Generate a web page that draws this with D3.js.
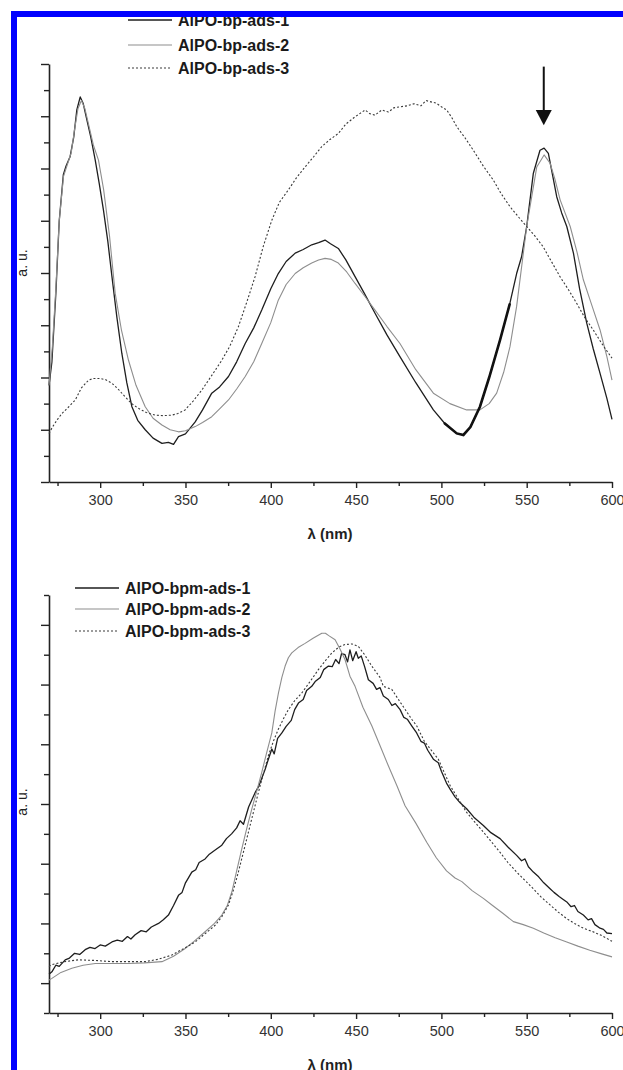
<!DOCTYPE html>
<html>
<head>
<meta charset="utf-8">
<script src="https://cdn.jsdelivr.net/npm/d3@7"></script>
<style>
  body { margin: 0; background: #fff; }
  svg { display: block; font-family: "Liberation Sans", Arial, sans-serif; }
</style>
</head>
<body>
<div id="chart"></div>
<script>
// x ticks (nm)
const xMajor = [300, 350, 400, 450, 500, 550, 600];
const xMinor = [275, 325, 375, 425, 475, 525, 575];

// top panel: AlPO-bp-ads-*
const bpNames = ["AlPO-bp-ads-1", "AlPO-bp-ads-2", "AlPO-bp-ads-3"];
const bpAds1 = [[270,1.85],[271.7,2.3],[274,3.6],[276,5.0],[278.4,5.88],[280,6.05],[282.4,6.23],[284.5,6.6],[286.3,7.12],[288.3,7.37],[290,7.25],[292.2,6.93],[294.5,6.6],[297.1,6.16],[299.5,5.7],[301.9,5.21],[304.5,4.6],[306.9,3.93],[309.8,3.15],[312.7,2.46],[315.6,1.9],[318.6,1.44],[322,1.18],[326.4,1.0],[331,0.84],[336.2,0.74],[340,0.76],[343,0.72],[345.9,0.87],[350,0.92],[355.7,1.15],[360,1.38],[365.4,1.7],[370,1.82],[375.2,2.02],[380,2.3],[385,2.65],[390,2.95],[394.7,3.29],[400,3.7],[404.4,3.99],[409,4.22],[414.3,4.38],[419,4.45],[424,4.54],[428,4.58],[431.8,4.63],[435,4.56],[439.6,4.47],[444,4.25],[449.4,3.93],[455,3.6],[461.1,3.23],[468,2.82],[475.7,2.4],[485,1.9],[495.3,1.38],[502,1.12],[509,0.93],[512.9,0.9],[517,1.05],[522.6,1.44],[528,2.0],[534.4,2.72],[540,3.4],[544.1,3.99],[547,4.31],[550,4.89],[553.9,5.91],[557.8,6.35],[560.2,6.39],[562.7,6.29],[565,5.9],[567.6,5.46],[570.5,5.15],[573.5,4.89],[577.4,4.38],[581,3.7],[585.2,3.04],[589,2.55],[593,2.08],[597,1.6],[600,1.2]];
const bpAds2 = [[270,1.85],[272,2.6],[274,3.7],[276,5.0],[278.5,5.85],[281,6.1],[283,6.3],[285,6.75],[287,7.15],[289,7.3],[291,7.15],[293.5,6.8],[296,6.45],[299,6.16],[302,5.6],[305.5,4.7],[308.8,3.61],[312.5,2.9],[316.6,2.33],[321,1.85],[326.4,1.44],[331,1.22],[336.2,1.09],[341,1.0],[345.9,0.96],[350,0.98],[355.7,1.06],[360,1.14],[365.4,1.25],[370,1.4],[375.2,1.57],[380,1.78],[385,2.02],[390,2.3],[394.7,2.65],[400,3.05],[404.4,3.48],[409,3.78],[414.3,3.99],[419,4.1],[424,4.19],[428,4.25],[431.8,4.28],[435.5,4.26],[439.6,4.19],[444.5,4.02],[449.4,3.8],[455,3.56],[461.1,3.29],[468,2.98],[475.7,2.65],[485,2.15],[495.3,1.7],[505,1.5],[514.8,1.38],[522.6,1.38],[528,1.5],[532.4,1.7],[536.5,2.1],[540.2,2.59],[544.1,3.36],[550,4.89],[555.9,6.03],[560.2,6.26],[563.7,6.1],[566.5,5.8],[569.6,5.4],[575.5,4.89],[579.5,4.4],[583.2,3.87],[588,3.4],[593,2.91],[597,2.4],[600,1.95]];
const bpAds3 = [[270,0.93],[272,1.05],[275,1.2],[277.6,1.31],[281,1.42],[285.4,1.57],[289,1.8],[293.2,1.95],[296,1.98],[300,1.98],[303,1.96],[306.9,1.89],[310.5,1.78],[314.6,1.63],[318.5,1.5],[322.4,1.41],[327,1.33],[332.2,1.28],[337,1.27],[342,1.28],[345.5,1.31],[349.8,1.38],[354.5,1.55],[359.6,1.76],[365,2.02],[371.3,2.33],[376,2.6],[381,2.97],[386,3.45],[390.8,3.93],[395.5,4.5],[400.6,5.01],[405,5.35],[410.3,5.59],[415,5.82],[420.1,6.03],[425,6.22],[429.9,6.42],[434.5,6.55],[439.6,6.67],[444,6.85],[449.4,6.99],[455.3,7.12],[458,7.05],[461.1,7.02],[465,7.12],[469,7.08],[472,7.16],[475.7,7.18],[480,7.2],[484,7.24],[488,7.2],[491,7.3],[493.3,7.28],[497,7.25],[500,7.18],[503.1,7.12],[506,6.98],[509,6.8],[514,6.58],[518.7,6.35],[524.5,6.05],[530.4,5.78],[535,5.52],[540.2,5.27],[545,5.08],[550,4.89],[555,4.7],[559.7,4.5],[564.5,4.22],[569.5,3.93],[574.5,3.68],[579.3,3.42],[584,3.15],[589,2.91],[595,2.6],[600,2.37]];

// bottom panel: AlPO-bpm-ads-*
const bpmNames = ["AlPO-bpm-ads-1", "AlPO-bpm-ads-2", "AlPO-bpm-ads-3"];
const bpmAds1 = [[270,0.15],[271.7,0.19],[274,0.3],[276,0.28],[279.5,0.39],[282,0.42],[285,0.5],[288,0.48],[291.2,0.56],[294,0.6],[297,0.58],[300,0.64],[303,0.62],[306.9,0.69],[310,0.72],[313,0.7],[316,0.78],[318,0.74],[320.5,0.81],[324,0.88],[327,0.86],[330,0.94],[334.2,1.0],[337,1.06],[340,1.14],[343,1.3],[345.9,1.47],[348,1.52],[350,1.68],[353.7,1.86],[356,1.9],[358,2.02],[361.5,2.08],[364,2.16],[367,2.22],[371.3,2.31],[374,2.42],[377,2.5],[380,2.6],[382,2.72],[384,2.66],[387,2.95],[390.8,3.19],[393,3.3],[396.7,3.58],[398,3.7],[400.6,3.92],[402,3.84],[404,4.1],[406.5,4.19],[409,4.3],[412,4.4],[414,4.58],[416.2,4.69],[419,4.75],[421,4.9],[424,4.97],[426,5.05],[429,5.12],[431,5.25],[433.8,5.31],[436,5.3],[438,5.42],[440,5.35],[441.5,5.52],[443.5,5.5],[445,5.38],[446.4,5.58],[448,5.4],[450,5.55],[451.3,5.44],[453,5.48],[455,5.3],[457.2,5.08],[460,5.02],[462,4.92],[464,4.95],[466,4.81],[468.9,4.75],[471,4.65],[473,4.68],[475.8,4.58],[478,4.45],[480,4.42],[482.6,4.31],[485.5,4.19],[488,4.05],[490,4.02],[492,3.9],[495.3,3.75],[498.2,3.69],[500,3.55],[503,3.35],[505.1,3.25],[508,3.12],[511,3.02],[514.8,2.92],[519,2.78],[524.6,2.64],[529,2.52],[534.4,2.42],[539,2.28],[544.1,2.14],[547,2.05],[549,2.08],[551,1.95],[553.9,1.86],[557,1.78],[560,1.68],[563.7,1.58],[566,1.52],[569,1.45],[571,1.41],[573.5,1.36],[576,1.28],[578,1.3],[580,1.2],[583.2,1.14],[586,1.06],[588,1.08],[590,0.98],[593,0.92],[595,0.9],[597,0.84],[600,0.83]];
const bpmAds2 = [[270,0.05],[271.7,0.08],[277,0.18],[283.4,0.25],[290,0.3],[297.1,0.33],[306,0.33],[316.6,0.33],[326,0.34],[336.2,0.36],[343,0.45],[349.8,0.58],[355,0.7],[361.5,0.86],[367,1.0],[371.3,1.14],[374.5,1.3],[377.2,1.53],[380,1.88],[383,2.25],[386,2.6],[388.9,2.92],[391.8,3.22],[394.7,3.53],[397.6,3.86],[400.6,4.19],[402.5,4.55],[404.5,4.86],[406.5,5.12],[408.4,5.31],[410.3,5.45],[412.3,5.53],[416,5.62],[420.1,5.69],[425,5.78],[429.9,5.86],[432,5.86],[434,5.82],[437.7,5.75],[440.5,5.6],[443.5,5.42],[446.4,5.14],[449.4,4.97],[454,4.62],[459.2,4.31],[464,3.98],[468.9,3.64],[474,3.3],[478.7,2.97],[485,2.68],[491.4,2.36],[497,2.1],[503,1.88],[508,1.76],[512,1.7],[518,1.55],[524.6,1.42],[530,1.3],[536,1.17],[542.2,1.03],[548,0.98],[553.9,0.92],[560,0.84],[566.7,0.76],[573.5,0.69],[580,0.62],[587,0.55],[594,0.49],[600,0.44]];
const bpmAds3 = [[270,0.28],[271.7,0.31],[279,0.36],[287.3,0.39],[297,0.38],[306.9,0.36],[316,0.36],[326.4,0.36],[334,0.4],[342,0.47],[349,0.58],[355.7,0.69],[362,0.84],[367.4,0.97],[371.5,1.12],[375.2,1.31],[378,1.55],[381,1.86],[384,2.2],[386.9,2.53],[389.8,2.86],[392.7,3.19],[395.6,3.5],[398.6,3.81],[401.5,4.05],[404.4,4.25],[407.3,4.42],[410.3,4.58],[414,4.73],[418.2,4.86],[423,5.05],[427.9,5.25],[432,5.4],[435.8,5.53],[440,5.63],[443.5,5.67],[447.5,5.68],[451.3,5.64],[455,5.5],[459.2,5.31],[464,5.12],[466,4.97],[470.9,4.92],[476,4.7],[482.6,4.42],[485.5,4.31],[490,4.05],[498.2,3.75],[505.1,3.31],[510,3.08],[514.8,2.86],[519.5,2.7],[524.6,2.53],[529.5,2.36],[534.4,2.19],[539,2.02],[544.1,1.86],[549,1.72],[553.9,1.58],[558.5,1.44],[563.7,1.31],[568.5,1.19],[573.5,1.08],[578,1.0],[583.2,0.92],[588,0.87],[593,0.81],[597,0.75],[600,0.7]];

const W = 623, H = 1070;
const svg = d3.select("#chart").append("svg")
    .attr("width", W)
    .attr("height", H);
svg.append("rect").attr("width", W).attr("height", H).attr("fill", "#fff");

const x = d3.scaleLinear().domain([270, 600]).range([49, 612]);

// series styles
const styles = [
    { stroke: "#1e1e1e", width: 1.3, dash: null },
    { stroke: "#8e8e8e", width: 1.1, dash: null },
    { stroke: "#3a3a3a", width: 1.1, dash: "2,2" }
];

function drawPanel(opts) {
    const y = d3.scaleLinear().domain(opts.yDomain).range(opts.yRange);
    const g = svg.append("g");
    const y0 = opts.yRange[0];

    // y axis: major + minor ticks, no labels
    g.append("g")
        .attr("transform", "translate(49,0)")
        .call(d3.axisLeft(y).tickValues(opts.yMajor).tickSize(8).tickSizeOuter(0).tickFormat(""))
        .call(a => a.select(".domain").attr("stroke-width", 1.6).attr("stroke", "#222"))
        .call(a => a.selectAll(".tick line").attr("stroke-width", 1.4).attr("stroke", "#222"));
    g.append("g")
        .attr("transform", "translate(49,0)")
        .call(d3.axisLeft(y).tickValues(opts.yMinor).tickSize(5).tickFormat(""))
        .call(a => a.select(".domain").remove())
        .call(a => a.selectAll(".tick line").attr("stroke-width", 1.4).attr("stroke", "#222"));

    // x axis
    g.append("g")
        .attr("transform", `translate(0,${y0})`)
        .call(d3.axisBottom(x).tickValues(xMajor).tickSize(6).tickSizeOuter(0).tickPadding(7))
        .call(a => a.select(".domain").attr("stroke-width", 1.6).attr("stroke", "#222"))
        .call(a => a.selectAll(".tick line").attr("stroke-width", 1.4).attr("stroke", "#222"))
        .call(a => a.selectAll("text").attr("font-size", 14.5).attr("fill", "#333")
            .attr("font-family", "'Liberation Sans', Arial, sans-serif"));
    g.append("g")
        .attr("transform", `translate(0,${y0})`)
        .call(d3.axisBottom(x).tickValues(xMinor).tickSize(4).tickFormat(""))
        .call(a => a.select(".domain").remove())
        .call(a => a.selectAll(".tick line").attr("stroke-width", 1.4).attr("stroke", "#222"));

    // axis titles
    g.append("text")
        .attr("x", 330)
        .attr("y", y0 + 57)
        .attr("text-anchor", "middle")
        .attr("font-size", 15)
        .attr("font-weight", "bold")
        .attr("fill", "#222")
        .text("λ (nm)");
    g.append("text")
        .attr("transform", `translate(27,${opts.yLabelAt}) rotate(-90)`)
        .attr("text-anchor", "middle")
        .attr("font-size", 14)
        .attr("fill", "#222")
        .text("a. u.");

    // curves
    const line = d3.line().x(d => x(d[0])).y(d => y(d[1]));
    opts.series.forEach((s, i) => {
        g.append("path")
            .datum(s)
            .attr("fill", "none")
            .attr("stroke", styles[i].stroke)
            .attr("stroke-width", styles[i].width)
            .attr("stroke-dasharray", styles[i].dash)
            .attr("stroke-linejoin", "round")
            .attr("d", line);
    });
    if (opts.bold) {
        g.append("path")
            .datum(opts.series[0].filter(d => d[0] >= opts.bold[0] && d[0] <= opts.bold[1]))
            .attr("fill", "none")
            .attr("stroke", "#111")
            .attr("stroke-width", 2.6)
            .attr("stroke-linecap", "round")
            .attr("d", line);
    }

    // legend
    opts.names.forEach((name, i) => {
        const ly = opts.legendY[i];
        g.append("line")
            .attr("x1", opts.legendX).attr("x2", opts.legendX + 44)
            .attr("y1", ly).attr("y2", ly)
            .attr("stroke", styles[i].stroke)
            .attr("stroke-width", styles[i].width)
            .attr("stroke-dasharray", styles[i].dash);
        g.append("text")
            .attr("x", opts.legendX + 50)
            .attr("y", ly + 5.5)
            .attr("font-size", 16)
            .attr("font-weight", "bold")
            .attr("fill", "#1a1a1a")
            .text(name);
    });
    return y;
}

const yTop = drawPanel({
    yDomain: [0, 8], yRange: [482, 64],
    yMajor: d3.range(0, 9), yMinor: d3.range(0.5, 8, 1),
    yLabelAt: 263,
    series: [bpAds1, bpAds2, bpAds3],
    bold: [497, 543],
    names: bpNames, legendX: 128, legendY: [20, 45, 68]
});

drawPanel({
    yDomain: [-0.5, 6.5], yRange: [1013, 595],
    yMajor: d3.range(0, 7), yMinor: d3.range(-0.5, 7, 1),
    yLabelAt: 802,
    series: [bpmAds1, bpmAds2, bpmAds3],
    names: bpmNames, legendX: 75, legendY: [588, 609, 631]
});

// arrow pointing at the 560 nm peak
const ax = x(560);
svg.append("line")
    .attr("x1", ax).attr("x2", ax)
    .attr("y1", yTop(7.95)).attr("y2", yTop(7.0))
    .attr("stroke", "#111").attr("stroke-width", 2);
svg.append("path")
    .attr("d", `M${ax - 8},${yTop(7.12)} L${ax + 8},${yTop(7.12)} L${ax},${yTop(6.83)} Z`)
    .attr("fill", "#111");

// blue frame
svg.append("rect")
    .attr("x", 14).attr("y", 14)
    .attr("width", 700).attr("height", 1200)
    .attr("fill", "none")
    .attr("stroke", "#0000ff")
    .attr("stroke-width", 6);
</script>
</body>
</html>
